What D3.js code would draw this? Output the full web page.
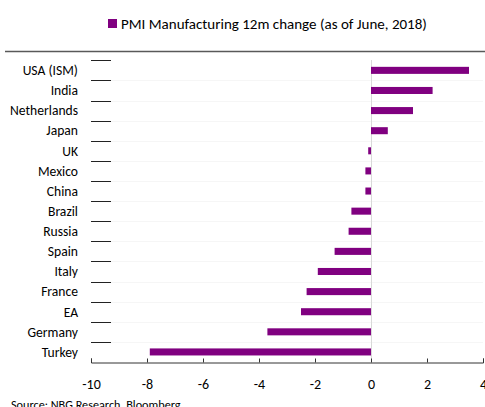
<!DOCTYPE html>
<html><head><meta charset="utf-8">
<script src="https://cdn.jsdelivr.net/npm/d3@7"></script>
<style>body{margin:0;background:#fff}svg{display:block;font-family:Carlito,Lato,"Liberation Sans",Arial,sans-serif}</style>
</head><body><svg id="c" width="485" height="407"></svg>
<script>
const categories = ["USA (ISM)","India","Netherlands","Japan","UK","Mexico","China","Brazil","Russia","Spain","Italy","France","EA","Germany","Turkey"];
const values = [3.5,2.2,1.5,0.6,-0.1,-0.2,-0.2,-0.7,-0.8,-1.3,-1.9,-2.3,-2.5,-3.7,-7.9];
const xTicks = [-10,-8,-6,-4,-2,0,2,4];
const seriesName = "PMI Manufacturing 12m change (as of June, 2018)";
const source = "Source: NBG Research, Bloomberg";
const color = "#800080";
const FONT = "Carlito,Lato,'Liberation Sans',Arial,sans-serif";

const svg = d3.select("#c");
const x = d3.scaleLinear().domain([-10,4]).range([91,483]);
const y = d3.scaleBand().domain(categories).range([60.3,362]).paddingInner(0.65).paddingOuter(0.325);
const yb = d3.scaleBand().domain(categories).range([60.3,362]);

// top divider line
svg.append("line").attr("x1",5).attr("x2",485).attr("y1",51.5).attr("y2",51.5).attr("stroke","#595959").attr("stroke-width",1.3);

// legend
svg.append("rect").attr("x",108).attr("y",19).attr("width",9).attr("height",9).attr("fill",color);
svg.append("text").attr("x",121).attr("y",29).attr("font-size",15).attr("fill","#000").text(seriesName);

// faint gridlines
svg.append("g").selectAll("line").data(categories.slice(1)).join("line")
  .attr("x1",111).attr("x2",483).attr("y1",d=>Math.round(yb(d))+0.5).attr("y2",d=>Math.round(yb(d))+0.5)
  .attr("stroke","#f6f6f6");

// zero line
svg.append("line").attr("x1",Math.round(x(0))+0.5).attr("x2",Math.round(x(0))+0.5).attr("y1",60).attr("y2",362).attr("stroke","#d9d9d9");

// bars
svg.append("g").selectAll("rect").data(values).join("rect")
  .attr("x",(d)=>x(Math.min(0,d)))
  .attr("width",d=>Math.abs(x(d)-x(0)))
  .attr("y",(d,i)=>y(categories[i]))
  .attr("height",y.bandwidth())
  .attr("fill",color);

// category tick marks (boundaries)
const bounds = categories.map(c=>yb(c));
svg.append("g").selectAll("line").data(bounds).join("line")
  .attr("x1",91).attr("x2",111).attr("y1",d=>Math.round(d)+0.5).attr("y2",d=>Math.round(d)+0.5)
  .attr("stroke","#222");

// category labels
svg.append("g").selectAll("text").data(categories).join("text")
  .attr("x",78).attr("y",d=>yb(d)+yb.bandwidth()/2+4.8)
  .attr("text-anchor","end").attr("font-size",13.6).attr("fill","#000").text(d=>d);

// x axis
const xa = svg.append("g").attr("transform","translate(0,362.5)")
  .call(d3.axisBottom(x).tickValues(xTicks).tickSize(-4).tickFormat(d=>String(d)));
xa.select(".domain").attr("stroke","#333");
xa.selectAll(".tick line").attr("stroke","#333");
xa.selectAll("text").attr("font-size",14).attr("fill","#000").attr("font-family",FONT).attr("dy",null).attr("y",26.5);

// source
svg.append("text").attr("x",11).attr("y",409).attr("font-size",12.2).attr("fill","#000").text(source);
</script></body></html>
